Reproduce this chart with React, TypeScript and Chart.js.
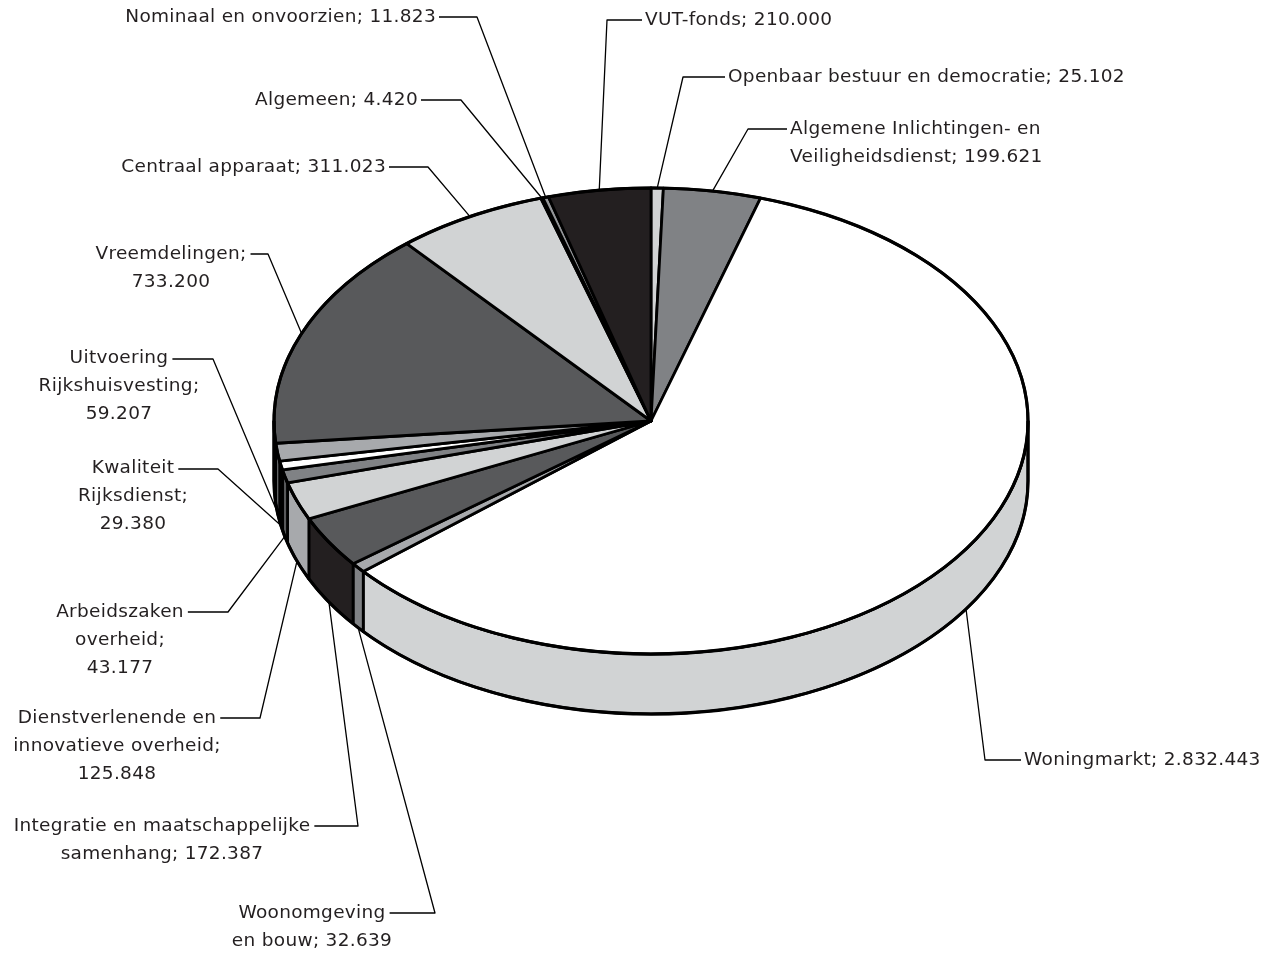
import React, { useEffect, useRef } from 'react';
import { Chart, registerables } from 'chart.js';

Chart.register(...registerables);

// ---------- data ----------
const categories: string[] = [
  'Openbaar bestuur en democratie',
  'Algemene Inlichtingen- en Veiligheidsdienst',
  'Woningmarkt',
  'Woonomgeving en bouw',
  'Integratie en maatschappelijke samenhang',
  'Dienstverlenende en innovatieve overheid',
  'Arbeidszaken overheid',
  'Kwaliteit Rijksdienst',
  'Uitvoering Rijkshuisvesting',
  'Vreemdelingen',
  'Centraal apparaat',
  'Algemeen',
  'Nominaal en onvoorzien',
  'VUT-fonds',
];
const values: number[] = [
  25102, 199621, 2832443, 32639, 172387, 125848, 43177, 29380, 59207, 733200, 311023, 4420, 11823,
  210000,
];
// words per label line
const labelBreaks: number[][] = [
  [5], [3, 2], [2], [1, 3], [3, 2], [2, 2, 1], [1, 1, 1], [1, 1, 1], [1, 1, 1], [1, 1], [3], [2], [4], [2],
];

// ---------- styles / layout ----------
const topColors: string[] = [
  '#d1d3d4', '#808285', '#ffffff', '#a7a9ac', '#58595b', '#d1d3d4', '#808285', '#ffffff', '#a7a9ac',
  '#58595b', '#d1d3d4', '#a7a9ac', '#939598', '#231f20',
];
const sideShade: Record<string, string> = {
  '#ffffff': '#d1d3d4',
  '#d1d3d4': '#a7a9ac',
  '#a7a9ac': '#808285',
  '#939598': '#6d6e71',
  '#808285': '#58595b',
  '#58595b': '#231f20',
  '#231f20': '#231f20',
};
const TILT = 0.618;
const DEPTH = 60;
type Align = 'left' | 'right' | 'center';
const labelLayout: { align: Align; x: number; y: number; ex: number; ey: number }[] = [
  { align: 'left', x: 728, y: 77, ex: 683, ey: 77 },
  { align: 'left', x: 790, y: 129, ex: 748, ey: 129 },
  { align: 'left', x: 1024, y: 760, ex: 985, ey: 760 },
  { align: 'center', x: 312, y: 913, ex: 435, ey: 913 },
  { align: 'center', x: 162, y: 826, ex: 358, ey: 826 },
  { align: 'center', x: 117, y: 718, ex: 260, ey: 718 },
  { align: 'center', x: 120, y: 612, ex: 228, ey: 612 },
  { align: 'center', x: 133, y: 468, ex: 218, ey: 469 },
  { align: 'center', x: 119, y: 358, ex: 213, ey: 359 },
  { align: 'center', x: 171, y: 254, ex: 268, ey: 254 },
  { align: 'right', x: 386, y: 167, ex: 428, ey: 167 },
  { align: 'right', x: 418, y: 100, ex: 461, ey: 100 },
  { align: 'right', x: 436, y: 17, ex: 477, ey: 17 },
  { align: 'left', x: 645, y: 20, ex: 607, ey: 20 },
];
const FONT = '18.5px "DejaVu Sans"';
const LETTER_SPACING = '0.3px';
const LINE_H = 28;
const TEXT_COLOR = '#231f20';

function fmt(v: number): string {
  return String(v).replace(/\B(?=(\d{3})+(?!\d))/g, '.');
}

function labelText(i: number): string[] {
  const words = `${categories[i]}; ${fmt(values[i])}`.split(' ');
  const out: string[] = [];
  let k = 0;
  for (const n of labelBreaks[i]) {
    out.push(words.slice(k, k + n).join(' '));
    k += n;
  }
  return out;
}

const pie3d = {
  id: 'pie3d',
  beforeDatasetsDraw(chart: any) {
    const ctx: CanvasRenderingContext2D = chart.ctx;
    const meta = chart.getDatasetMeta(0);
    const arcs = meta.data.map((a: any) =>
      a.getProps(['x', 'y', 'startAngle', 'endAngle', 'outerRadius'], true)
    );
    if (!arcs.length) return false;
    const cx = arcs[0].x;
    const cy = arcs[0].y;
    const rx = arcs[0].outerRadius;
    const ry = rx * TILT;
    ctx.save();
    ctx.lineJoin = 'round';
    ctx.strokeStyle = '#000';

    // side faces (front half: canvas angle 0..PI)
    arcs.forEach((a: any, i: number) => {
      const a1 = Math.max(a.startAngle, 0);
      const a2 = Math.min(a.endAngle, Math.PI);
      if (a2 <= a1) return;
      ctx.beginPath();
      ctx.ellipse(cx, cy, rx, ry, 0, a1, a2, false);
      ctx.lineTo(cx + rx * Math.cos(a2), cy + DEPTH + ry * Math.sin(a2));
      ctx.ellipse(cx, cy + DEPTH, rx, ry, 0, a2, a1, true);
      ctx.closePath();
      ctx.fillStyle = sideShade[topColors[i]] || topColors[i];
      ctx.fill();
      ctx.lineWidth = 2.8;
      ctx.stroke();
    });

    // top faces
    arcs.forEach((a: any, i: number) => {
      ctx.beginPath();
      ctx.moveTo(cx, cy);
      ctx.ellipse(cx, cy, rx, ry, 0, a.startAngle, a.endAngle, false);
      ctx.closePath();
      ctx.fillStyle = topColors[i];
      ctx.fill();
      ctx.lineWidth = 2.8;
      ctx.stroke();
    });

    // outline
    ctx.lineWidth = 3.2;
    ctx.beginPath();
    ctx.ellipse(cx, cy, rx, ry, 0, 0, Math.PI * 2);
    ctx.stroke();
    ctx.beginPath();
    ctx.moveTo(cx + rx, cy);
    ctx.lineTo(cx + rx, cy + DEPTH);
    ctx.ellipse(cx, cy + DEPTH, rx, ry, 0, 0, Math.PI, false);
    ctx.lineTo(cx - rx, cy);
    ctx.stroke();

    // labels + leader lines
    ctx.font = FONT;
    (ctx as any).letterSpacing = LETTER_SPACING;
    ctx.textBaseline = 'middle';
    ctx.fillStyle = TEXT_COLOR;
    arcs.forEach((a: any, i: number) => {
      const L = labelLayout[i];
      const lines = labelText(i);
      const mid = (a.startAngle + a.endAngle) / 2;
      const s = Math.sin(mid);
      const px = cx + rx * Math.cos(mid);
      const py = cy + ry * s + (s > 0 ? DEPTH : 0);
      let hx: number;
      const w0 = ctx.measureText(lines[0]).width;
      if (L.align === 'left') hx = L.x - 3;
      else if (L.align === 'right') hx = L.x + 3;
      else hx = L.x + w0 / 2 + 4;
      ctx.beginPath();
      ctx.lineWidth = 1.3;
      ctx.moveTo(px, py);
      ctx.lineTo(L.ex, L.ey);
      ctx.lineTo(hx, L.ey);
      ctx.stroke();
      ctx.textAlign = L.align;
      lines.forEach((t, k) => ctx.fillText(t, L.x, L.y + k * LINE_H));
    });
    ctx.restore();
    return false;
  },
};

export default function App() {
  const ref = useRef<HTMLCanvasElement | null>(null);
  useEffect(() => {
    if (!ref.current) return;
    const chart = new Chart(ref.current, {
      type: 'pie',
      data: {
        labels: categories,
        datasets: [
          {
            data: values,
            backgroundColor: topColors,
            borderWidth: 0,
            hoverOffset: 0,
          } as any,
        ],
      },
      options: {
        animation: false,
        responsive: false,
        events: [],
        layout: { padding: { left: 274, right: 255, top: 44, bottom: 156 } },
        plugins: { legend: { display: false }, tooltip: { enabled: false } },
      },
      plugins: [pie3d as any],
    });
    return () => chart.destroy();
  }, []);
  return (
    <div style={{ position: 'absolute', left: 0, top: 0, width: 1283, height: 954, background: '#fff' }}>
      <canvas ref={ref} width={1283} height={954} />
    </div>
  );
}
